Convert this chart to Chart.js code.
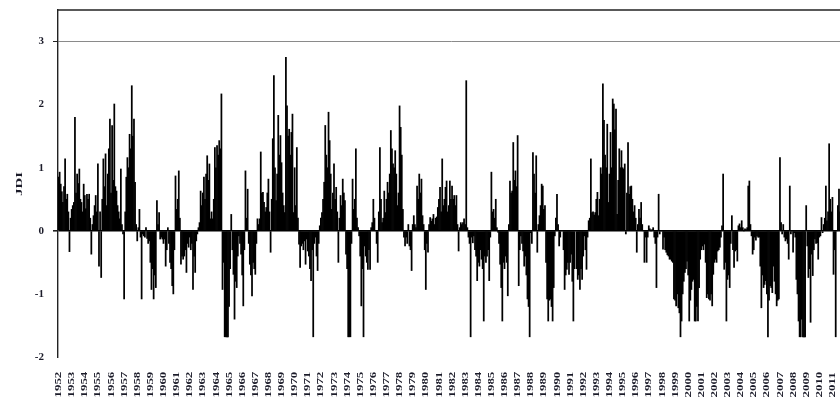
<!DOCTYPE html>
<html>
<head>
<meta charset="utf-8">
<script src="https://cdn.jsdelivr.net/npm/chart.js@4.4.1/dist/chart.umd.min.js"></script>
<style>
  html, body { margin: 0; padding: 0; background: #fff; overflow: hidden; }
  #wrap { width: 845px; height: 403px; position: relative; }
</style>
</head>
<body>
<div id="wrap"><canvas id="c" width="845" height="403"></canvas></div>
<script>
// Monthly JDI values, January 1952 - December 2011, one row per year (Jan..Dec)
const jdi1950s = [
  0.85, 0.93, 0.74, 0.62, 0.45, 0.70, 1.14, 0.50, 0.58, 0.30, -0.33, 0.20,   // 1952
  0.34, 0.40, 0.45, 1.80, 0.60, 0.90, 0.75, 0.98, 0.50, 0.45, 0.30, 0.74,    // 1953
  0.56, 0.35, 0.58, 0.50, 0.58, 0.20, -0.37, 0.10, 0.24, 0.40, 0.56, 0.30,   // 1954
  1.06, -0.56, 0.30, -0.74, 0.50, 1.14, 0.70, 1.22, 0.40, 0.90, 1.30, 1.77,  // 1955
  0.60, 1.67, 0.80, 2.01, 0.70, 0.63, 0.40, 0.30, 0.19, 0.98, 0.10, -0.05,   // 1956
  -1.08, 0.30, 0.85, 1.16, 1.00, 1.53, 1.30, 2.30, 1.50, 1.77, 0.77, 0.10,   // 1957
  -0.16, 0.05, 0.34, -0.10, -1.08, -0.05, -0.08, -0.10, 0.05, -0.12, -0.20, -0.16, // 1958
  -0.50, -0.93, -0.60, -1.08, -0.70, -0.90, 0.48, 0.10, 0.29, -0.13, -0.10, -0.13  // 1959
];
const jdi1960s = [
  -0.20, -0.13, -0.56, -0.30, 0.05, -0.20, -0.50, -0.60, -0.87, -1.00, -0.30, 0.87, // 1960
  0.34, 0.50, 0.95, 0.20, -0.53, -0.40, -0.45, -0.40, -0.30, -0.66, -0.20, -0.26,   // 1961
  -0.10, -0.30, -0.20, -0.93, -0.40, -0.66, -0.16, -0.05, 0.05, 0.13, 0.63, 0.40,   // 1962
  0.60, 0.85, 0.50, 0.90, 1.19, 0.80, 1.06, 0.19, 0.30, 0.19, 0.50, 1.32,          // 1963
  1.00, 1.35, 1.20, 1.43, 1.30, 2.17, -0.93, -0.50, -1.68, -1.68, -1.68, -1.68,     // 1964
  -1.20, -0.60, 0.26, -0.30, -0.69, -1.40, -0.80, -0.90, -0.40, -0.08, -0.20, -0.37, // 1965
  -0.70, -1.19, -0.30, 0.95, 0.20, 0.66, -0.20, -0.53, -0.70, -1.03, -0.50, -0.60,  // 1966
  -0.69, -0.20, 0.19, 0.10, 0.19, 1.25, 0.60, 0.61, 0.45, 0.30, 0.37, 0.60,         // 1967
  0.82, 0.30, -0.34, 0.50, 1.46, 2.46, 1.00, 0.48, 0.90, 1.83, 1.20, 1.51,          // 1968
  1.08, 0.60, 0.40, 0.29, 2.75, 1.98, 1.50, 1.61, 1.20, 1.56, 1.85, 0.29            // 1969
];
const jdi1970s = [
  1.00, 0.40, 1.32, 0.20, -0.21, -0.58, -0.24, -0.20, -0.30, -0.16, -0.53, -0.13,  // 1970
  -0.32, -0.40, -0.60, -0.79, -0.30, -1.68, -0.20, -0.10, -0.40, -0.63, -0.20, 0.08, // 1971
  0.20, 0.29, 0.50, 0.77, 1.67, 1.20, 1.00, 1.88, 1.43, 0.90, 0.34, 0.60,           // 1972
  1.06, 0.50, 0.69, 0.30, -0.50, 0.20, 0.56, 0.40, 0.82, 0.60, 0.48, -0.37,         // 1973
  -0.60, -1.68, -1.68, -1.68, -0.20, 0.82, 0.34, 0.50, 1.30, 0.20, 0.05, -0.08,     // 1974
  -0.40, -1.19, -0.60, -1.68, -0.24, -0.40, -0.50, -0.61, -0.30, -0.61, 0.05, 0.13, // 1975
  0.50, 0.20, 0.00, -0.20, -0.50, 0.30, 1.32, 0.50, 0.13, 0.20, 0.63, 0.29,         // 1976
  0.50, 0.77, 0.60, 0.90, 1.59, 1.30, 1.06, 1.00, 1.27, 0.90, 0.40, 0.60,           // 1977
  1.98, 1.64, 1.20, 0.34, -0.10, -0.24, -0.10, -0.20, 0.10, -0.24, -0.30, -0.63,    // 1978
  0.10, 0.24, 0.10, 0.05, 0.71, 0.50, 0.90, 0.60, 0.82, 0.24, 0.10, -0.30           // 1979
];
const jdi1980s = [
  -0.93, -0.20, -0.34, 0.10, 0.21, 0.15, 0.19, 0.26, 0.10, 0.20, 0.22, 0.37,        // 1980
  0.50, 0.69, 0.30, 1.14, 0.40, 0.50, 0.69, 0.79, 0.30, 0.40, 0.79, 0.50,           // 1981
  0.71, 0.50, 0.56, 0.40, 0.56, 0.10, -0.32, 0.05, 0.13, 0.10, 0.13, 0.19,          // 1982
  0.10, 2.38, 0.05, -0.10, -0.20, -1.68, -0.10, -0.19, -0.08, -0.30, -0.40, -0.79,  // 1983
  -0.50, -0.56, -0.30, -0.45, -0.60, -1.43, -0.40, -0.50, -0.40, -0.30, -0.79, -0.10, // 1984
  0.93, 0.30, 0.34, 0.20, 0.50, 0.05, -0.02, -0.20, -0.53, -0.90, -1.43, -0.50,     // 1985
  -0.60, -0.40, -0.50, -1.03, 0.10, 0.79, 0.60, 0.63, 1.40, 0.80, 0.95, 0.70,       // 1986
  1.51, -0.87, -0.30, -0.08, -0.20, -0.32, -0.56, -0.40, -0.70, -1.08, -1.20, -1.68, // 1987
  -0.03, -0.20, 1.24, 0.90, 0.60, 1.19, -0.34, 0.10, 0.24, 0.40, 0.74, 0.71,        // 1988
  0.34, 0.40, -0.50, -1.08, -1.43, -1.10, -1.08, -1.20, -1.43, -0.90, -0.08, 0.20   // 1989
];
const jdi1990s = [
  0.58, 0.10, -0.24, -0.10, 0.00, 0.00, -0.30, -0.93, -0.70, -0.61, -0.50, -0.69,   // 1990
  -0.50, -0.37, -0.80, -1.43, -0.60, 0.00, -0.60, -0.77, -0.70, -0.93, -0.60, -0.77, // 1991
  -0.40, -0.08, -0.30, -0.61, -0.10, 0.16, 0.20, 1.14, 0.29, 0.30, 0.25, 0.29,      // 1992
  0.50, 0.61, 0.24, 0.50, 1.00, 0.90, 2.33, 1.75, 1.20, 1.00, 1.69, 0.45,           // 1993
  0.90, 1.56, 1.00, 2.09, 2.01, 1.60, 1.93, 0.26, 0.80, 1.30, 1.00, 1.27,           // 1994
  1.00, 0.98, 1.06, -0.05, 0.60, 1.40, 0.58, 0.70, 0.71, 0.50, 0.30, 0.40,          // 1995
  0.20, -0.34, 0.10, 0.34, 0.20, 0.45, 0.10, 0.00, -0.50, -0.10, -0.50, -0.10,      // 1996
  0.08, 0.03, 0.00, 0.02, 0.05, -0.10, -0.20, -0.90, -0.10, 0.58, -0.05, 0.00,      // 1997
  0.00, -0.29, -0.10, -0.30, -0.34, -0.38, -0.40, -0.45, -0.45, -0.48, -0.50, -1.08, // 1998
  -1.10, -1.19, -1.00, -1.22, -1.30, -1.68, -1.43, -1.00, -0.80, -0.66, -0.60, -0.48 // 1999
];
const jdi2000s = [
  -0.70, -1.43, -1.10, -0.93, -0.80, -0.77, -1.43, -1.43, -1.20, -1.43, -0.90, -0.45, // 2000
  -0.30, -0.24, -0.30, -0.21, -0.50, -1.06, -1.00, -1.08, -1.10, -1.00, -1.19, -0.69, // 2001
  -0.50, -0.45, -0.50, -0.32, -0.30, -0.26, -0.10, 0.08, 0.90, -0.61, -0.50, -1.43,   // 2002
  -0.77, -0.70, -0.90, -0.20, 0.24, -0.30, -0.58, -0.32, -0.30, -0.48, 0.08, 0.11,    // 2003
  0.05, 0.16, 0.05, 0.00, 0.03, 0.02, 0.05, 0.71, 0.79, 0.10, -0.08, -0.37,           // 2004
  -0.30, -0.10, -0.15, -0.08, -0.10, -0.10, -0.56, -1.22, -0.70, -0.90, -0.85, -0.79, // 2005
  -1.00, -1.68, -1.10, -0.87, -0.90, -0.98, -0.56, -0.80, -1.00, -1.19, -1.10, -1.08, // 2006
  1.16, 0.13, -0.05, 0.10, -0.10, -0.16, -0.13, -0.20, -0.45, 0.71, -0.05, 0.00,      // 2007
  -0.34, -0.03, -0.10, -0.77, -1.00, -1.43, -1.68, -1.68, -1.40, -1.68, -1.68, -1.68, // 2008
  0.40, -0.24, -0.74, -0.60, -1.45, -0.37, -0.71, -0.30, -0.13, -0.20, -0.19, -0.45   // 2009
];
const jdi2010s = [
  -0.10, -0.08, 0.21, -0.03, 0.10, 0.20, 0.71, 0.16, 0.30, 1.38, 0.50, 0.30,        // 2010
  0.53, -0.69, -0.30, -1.68, 0.00, 0.40, 0.66, 0.30, 0.20, 0.10, 0.30, 0.20         // 2011
];

const yearLabels = [
  '1952','1953','1954','1955','1956','1957','1958','1959',
  '1960','1961','1962','1963','1964','1965','1966','1967','1968','1969',
  '1970','1971','1972','1973','1974','1975','1976','1977','1978','1979',
  '1980','1981','1982','1983','1984','1985','1986','1987','1988','1989',
  '1990','1991','1992','1993','1994','1995','1996','1997','1998','1999',
  '2000','2001','2002','2003','2004','2005','2006','2007','2008','2009',
  '2010','2011'
];
const yTicks = [-2, -1, 0, 1, 2, 3];
const axisTitle = 'JDI';

const values = [].concat(jdi1950s, jdi1960s, jdi1970s, jdi1980s, jdi1990s, jdi2000s, jdi2010s);
const monthLabels = [];
yearLabels.forEach(y => {
  for (let m = 1; m <= 12; m++) monthLabels.push(y + '-' + String(m).padStart(2, '0'));
});

const textColor = '#1c1c2a';

// Year labels under the plot, rotated and stretched along the text direction
const yearLabelPlugin = {
  id: 'yearLabels',
  afterDraw(chart) {
    const ctx = chart.ctx;
    const xs = chart.scales.x;
    ctx.save();
    ctx.fillStyle = textColor;
    ctx.font = 'bold 7.5px "Liberation Serif", "DejaVu Serif", serif';
    ctx.textAlign = 'left';
    ctx.textBaseline = 'alphabetic';
    yearLabels.forEach((y, i) => {
      const x = xs.getPixelForValue(i * 12);
      ctx.save();
      ctx.translate(x, 397.5);
      ctx.rotate(-Math.PI / 2);
      ctx.scale(1.72, 1);
      ctx.fillText(y, 0, 2.6);
      ctx.restore();
    });
    // vertical axis title, stretched the same way
    ctx.save();
    ctx.translate(20, 184);
    ctx.rotate(-Math.PI / 2);
    ctx.scale(1.65, 1);
    ctx.font = 'bold 9px "Liberation Serif", "DejaVu Serif", serif';
    ctx.textAlign = 'center';
    ctx.textBaseline = 'middle';
    ctx.fillText(axisTitle, 0, 0);
    ctx.restore();
    // plot frame top edge
    const a = chart.chartArea;
    ctx.strokeStyle = '#222';
    ctx.lineWidth = 1.4;
    ctx.beginPath();
    ctx.moveTo(a.left - 0.7, a.top);
    ctx.lineTo(a.right + 5, a.top);
    ctx.stroke();
    ctx.restore();
  }
};

new Chart(document.getElementById('c'), {
  type: 'bar',
  data: {
    labels: monthLabels,
    datasets: [{
      data: values,
      backgroundColor: '#000',
      borderWidth: 0,
      barPercentage: 1.0,
      categoryPercentage: 1.0
    }]
  },
  options: {
    responsive: false,
    animation: false,
    devicePixelRatio: 1,
    layout: { padding: { top: 10, right: 0, bottom: 0, left: 0 } },
    plugins: { legend: { display: false }, tooltip: { enabled: false } },
    scales: {
      x: {
        type: 'category',
        grid: { display: false },
        border: { display: false },
        ticks: { display: false },
        afterFit(scale) { scale.height = 46; }
      },
      y: {
        min: -2,
        max: 3.5,
        afterFit(scale) {
          scale.width = 58;
          scale.paddingTop = 0;
          scale.paddingBottom = 0;
        },
        afterBuildTicks(scale) {
          scale.ticks = yTicks.map(v => ({ value: v }));
        },
        ticks: {
          stepSize: 1,
          padding: 9,
          color: textColor,
          font: { family: '"Liberation Serif", "DejaVu Serif", serif', size: 11, weight: 'bold' }
        },
        grid: {
          drawTicks: true,
          tickLength: 5,
          lineWidth: ctx => (ctx.tick && ctx.tick.value === 0) ? 1.6 : 1,
          color: ctx => {
            if (!ctx.tick) return 'rgba(0,0,0,0)';
            if (ctx.tick.value === 3) return '#8a8a8a';
            if (ctx.tick.value === 0) return '#000';
            return 'rgba(0,0,0,0)';
          },
          tickColor: ctx => {
            if (!ctx.tick) return 'rgba(0,0,0,0)';
            return (ctx.tick.value === 3 || ctx.tick.value === 0) ? '#222' : 'rgba(0,0,0,0)';
          }
        },
        border: { display: true, color: '#222', width: 1.4 }
      }
    }
  },
  plugins: [yearLabelPlugin]
});
</script>
</body>
</html>
